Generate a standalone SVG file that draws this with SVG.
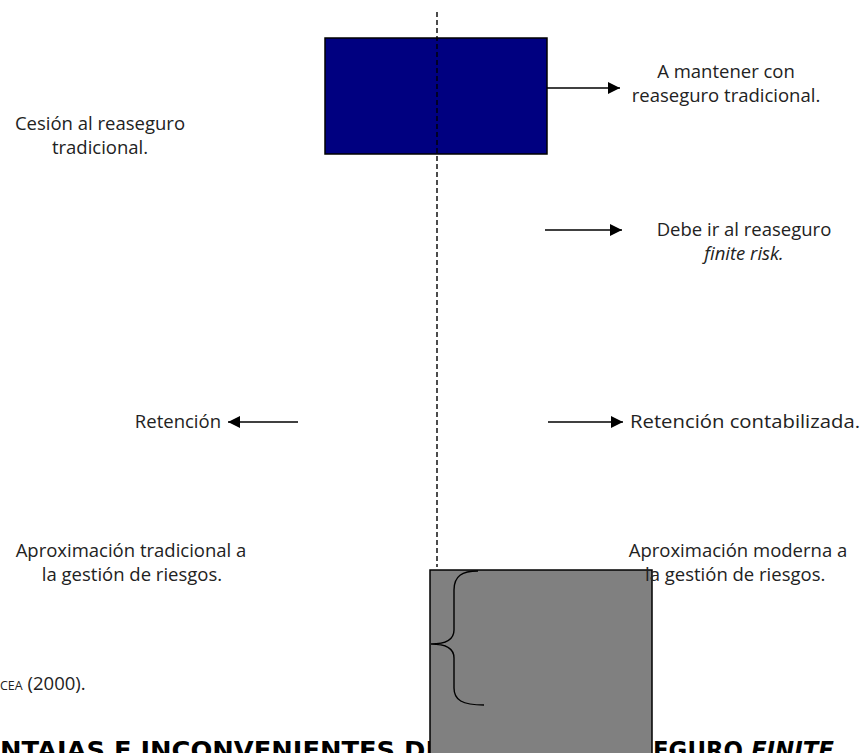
<svg xmlns="http://www.w3.org/2000/svg" width="864" height="753" viewBox="0 0 864 753">
<defs>
<style>
.t{font-family:"Open Sans","Noto Sans","Liberation Sans",sans-serif;font-size:18.5px;fill:#222}
.c{text-anchor:middle}
.ln{stroke:#000;stroke-width:1.4;fill:none}
.h{font-family:"DejaVu Sans","Liberation Sans",sans-serif;font-weight:bold;font-size:25px;fill:#000}
</style>
<marker id="ah" viewBox="0 0 10 10" refX="10" refY="5" markerWidth="17" markerHeight="12" markerUnits="userSpaceOnUse" orient="auto"><path d="M0,0L10,5L0,10z" fill="#000"/></marker>
</defs>
<rect width="864" height="753" fill="#fff"/>
<g id="heading">
<text class="h" x="0" y="759" textLength="443" lengthAdjust="spacingAndGlyphs">NTAJAS E INCONVENIENTES DE</text>
<text class="h" x="653" y="759" textLength="181" lengthAdjust="spacingAndGlyphs">EGURO <tspan font-style="italic">FINITE</tspan></text>
</g>
<g id="blue-box"><rect x="325" y="38" width="222" height="116" fill="#000080" stroke="#000" stroke-width="1.5"/></g>
<g id="source"><text class="t" x="0" y="690"><tspan font-size="12.5">CEA</tspan> (2000).</text></g>
<g id="connectors">
<line class="ln" x1="437" y1="12" x2="437" y2="567" stroke-dasharray="5,3"/>
<line class="ln" x1="547" y1="88" x2="620" y2="88" marker-end="url(#ah)"/>
<line class="ln" x1="545" y1="230" x2="622" y2="230" marker-end="url(#ah)"/>
<line class="ln" x1="298" y1="422" x2="228" y2="422" marker-end="url(#ah)"/>
<line class="ln" x1="548" y1="422" x2="623" y2="422" marker-end="url(#ah)"/>
</g>
<g id="label-mantener"><text class="t c" x="726" y="78">A mantener con</text><text class="t c" x="726" y="102">reaseguro tradicional.</text></g>
<g id="label-cesion"><text class="t c" x="100" y="130">Cesión al reaseguro</text><text class="t c" x="100" y="154">tradicional.</text></g>
<g id="label-finite"><text class="t c" x="744" y="236">Debe ir al reaseguro</text><text class="t c" x="744" y="260" font-style="italic">finite risk.</text></g>
<g id="label-retencion"><text class="t" x="221" y="428" text-anchor="end">Retención</text></g>
<g id="label-contabilizada"><text class="t" x="630" y="428" textLength="230" lengthAdjust="spacingAndGlyphs">Retención contabilizada.</text></g>
<g id="label-tradicional"><text class="t c" x="131" y="557">Aproximación tradicional a</text><text class="t c" x="132" y="581">la gestión de riesgos.</text></g>
<g id="gray-box">
<rect x="430" y="570" width="222" height="200" fill="#808080" stroke="#000" stroke-width="1.5"/>
<path class="ln" d="M478,571 C462,571 454,576 454,590 L454,630 C454,640 446,644 431,644 C446,644 454,648 454,658 L454,688 C454,700 462,705 484,705"/>
</g>
<g id="label-moderna"><text class="t c" x="738" y="557">Aproximación moderna a</text><text class="t" x="645" y="581">la gestión de riesgos.</text></g>
</svg>
